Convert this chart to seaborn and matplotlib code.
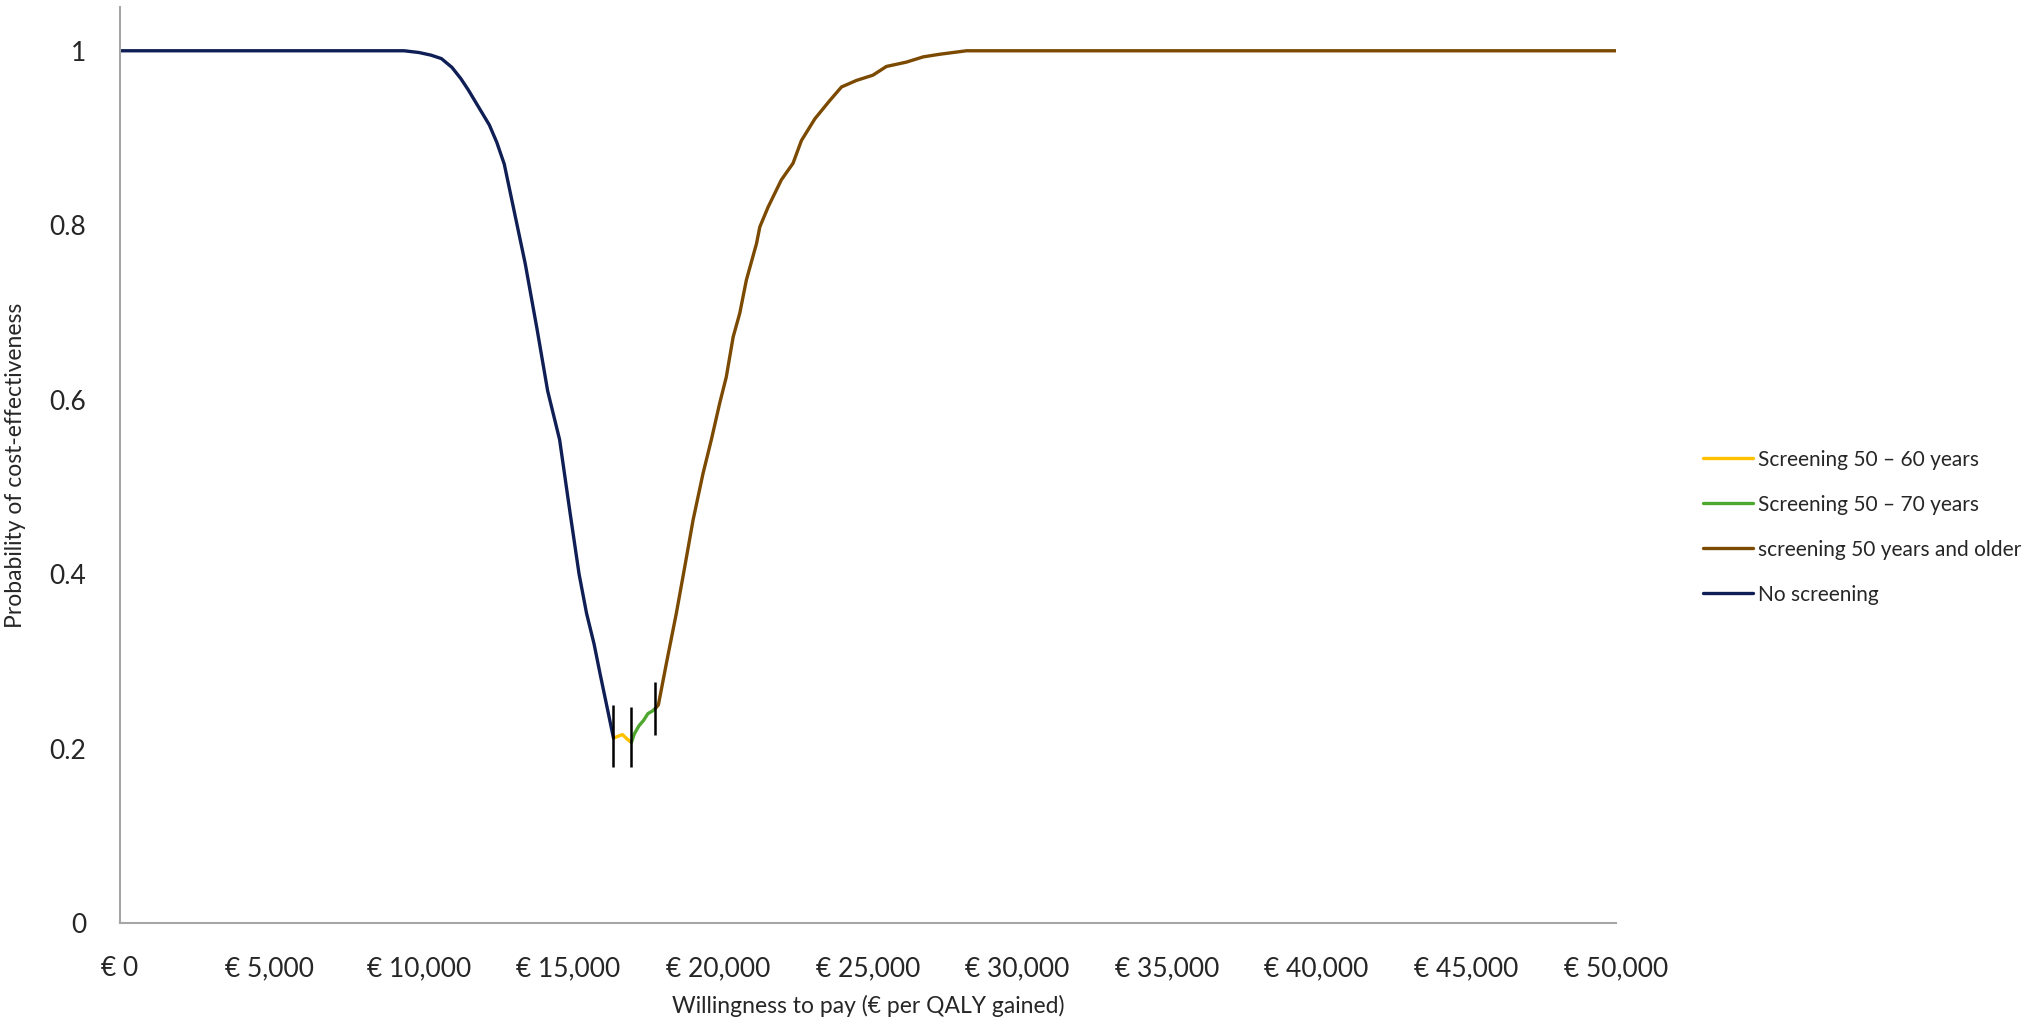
import pandas as pd
import numpy as np
import matplotlib
matplotlib.use('Agg')
import matplotlib.pyplot as plt
import seaborn as sns
from matplotlib.ticker import FuncFormatter

# data
no_screen_wtp = [0, 9500, 10000, 10400, 10750, 11100, 11400, 11650, 12000, 12350, 12600, 12850,
                 13200, 13550, 13950, 14300, 14700, 15050, 15350, 15600, 15850, 16050, 16300, 16500]
no_screen_p = [1, 1, 0.998, 0.995, 0.991, 0.981, 0.968, 0.955, 0.935, 0.915, 0.895, 0.87,
               0.813, 0.756, 0.68, 0.61, 0.554, 0.47, 0.40, 0.355, 0.32, 0.286, 0.245, 0.212]

s5060_wtp = [16500, 16650, 16800, 16950, 17100]
s5060_p = [0.212, 0.214, 0.216, 0.211, 0.207]

s5070_wtp = [17100, 17200, 17350, 17500, 17650, 17800, 17900]
s5070_p = [0.207, 0.217, 0.226, 0.232, 0.240, 0.243, 0.246]

s50up_wtp = [17900, 18000, 18270, 18600, 18880, 19160, 19490, 19770, 20050, 20270, 20500, 20720,
             20940, 21280, 21390, 21670, 22110, 22500, 22780, 23230, 23730, 24120, 24620, 25170,
             25620, 26290, 26850, 27400, 28300, 50000]
s50up_p = [0.246, 0.25, 0.298, 0.355, 0.408, 0.462, 0.515, 0.554, 0.596, 0.626, 0.672, 0.699,
           0.737, 0.779, 0.798, 0.821, 0.852, 0.871, 0.897, 0.922, 0.943, 0.9585, 0.966, 0.972,
           0.982, 0.987, 0.993, 0.996, 1.0, 1.0]

strategies = ['Screening 50 – 60 years', 'Screening 50 – 70 years',
              'screening 50 years and older', 'No screening']
colors = ['#FFC000', '#4EA72E', '#7B4A00', '#0F1E55']

# switch points between strategies (black markers)
switch_wtp = [16500, 17100, 17900]
switch_lo = [0.179, 0.179, 0.2155]
switch_hi = [0.25, 0.248, 0.2766]

xticks = list(range(0, 50001, 5000))
yticks = [0, 0.2, 0.4, 0.6, 0.8, 1]
ytick_labels = ['0', '0.2', '0.4', '0.6', '0.8', '1']

frames = []
for name, w, p in [(strategies[3], no_screen_wtp, no_screen_p),
                   (strategies[0], s5060_wtp, s5060_p),
                   (strategies[1], s5070_wtp, s5070_p),
                   (strategies[2], s50up_wtp, s50up_p)]:
    frames.append(pd.DataFrame({'wtp': w, 'prob': p, 'strategy': name}))
df = pd.concat(frames, ignore_index=True)

sns.set_style('white')
plt.rcParams['font.family'] = ['Lato', 'DejaVu Sans']

fig = plt.figure(figsize=(20.3, 10.23), dpi=100)
ax = fig.add_axes([0.059, 0.0978, 0.737, 0.8952])

sns.lineplot(data=df, x='wtp', y='prob', hue='strategy', hue_order=strategies,
             palette=colors, estimator=None, sort=False, linewidth=2.4, ax=ax, legend=True)

ax.vlines(switch_wtp, switch_lo, switch_hi, colors='black', linewidth=1.8)

ax.set_xlim(0, 50000)
ax.set_ylim(0, 1.05)
ax.set_xticks(xticks)
ax.xaxis.set_major_formatter(FuncFormatter(lambda v, pos: f'€ {v:,.0f}'))
ax.set_yticks(yticks)
ax.set_yticklabels(ytick_labels)

for side in ['top', 'right']:
    ax.spines[side].set_visible(False)
for side in ['left', 'bottom']:
    ax.spines[side].set_color('#A6A6A6')
    ax.spines[side].set_linewidth(1.5)
ax.tick_params(axis='both', which='major', direction='out', color='#A6A6A6', width=1.5,
               labelsize=19, labelcolor='#262626')
ax.tick_params(axis='x', length=10, pad=14)
ax.tick_params(axis='y', length=8, pad=16)
ax.grid(False)

ax.set_xlabel('Willingness to pay (€ per QALY gained)', fontsize=16.5, color='#262626')
ax.set_ylabel('Probability of cost-effectiveness', fontsize=16.5, color='#262626')
ax.xaxis.set_label_coords(0.5, -0.0786)
ax.yaxis.set_label_coords(-0.063, 0.5)

handles, labels = ax.get_legend_handles_labels()
ax.get_legend().remove()
fig.legend(handles, labels, loc='center left', bbox_to_anchor=(0.8296, 0.4848), frameon=False,
           fontsize=15, handlelength=2.4, handletextpad=0.25, labelspacing=1.2,
           labelcolor='#262626')

fig.savefig('out.png', dpi=100)
